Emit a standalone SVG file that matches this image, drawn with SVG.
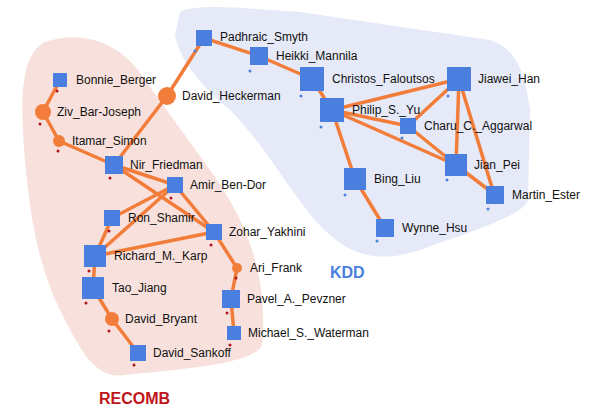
<svg xmlns="http://www.w3.org/2000/svg" width="600" height="409" viewBox="0 0 600 409">
<style>
.sq{fill:#4a7fe0}.ci{fill:#f27d3a}.e line{stroke:#f27d3a;stroke-width:3.5;stroke-linecap:round}
text{font-family:"Liberation Sans",Arial,sans-serif;font-size:12px;fill:#111}
.rd{fill:#b0141a}.bd{fill:#4a7fe0}
</style>
<rect width="600" height="409" fill="#fff"/>
<path d="M45,42 C80,30 120,40 145,80 L210,170 C250,225 268,280 262,345 C255,365 170,370 125,375 C95,380 80,350 60,310 C40,270 30,220 25,160 C20,100 20,55 45,42 Z" fill="#f8e1dc"/>
<path d="M180,12 C200,2 260,10 300,12 L490,40 C515,48 525,70 530,110 L528,200 C525,215 470,232 420,250 C385,262 355,258 330,235 C300,210 270,150 230,110 C200,85 180,60 175,35 Z" fill="#e6eaf8"/>
<g class="e">
<line x1="60" y1="80" x2="43" y2="112"/><line x1="43" y1="112" x2="59" y2="141"/><line x1="59" y1="141" x2="114" y2="165"/>
<line x1="167" y1="96" x2="114" y2="165"/><line x1="167" y1="96" x2="204" y2="38"/><line x1="204" y1="38" x2="259" y2="56"/>
<line x1="259" y1="56" x2="312" y2="79"/><line x1="312" y1="79" x2="332" y2="110"/><line x1="332" y1="110" x2="459" y2="79"/>
<line x1="332" y1="110" x2="408" y2="126"/><line x1="332" y1="110" x2="456" y2="165"/><line x1="332" y1="110" x2="355" y2="179"/>
<line x1="459" y1="79" x2="408" y2="126"/><line x1="459" y1="79" x2="456" y2="165"/><line x1="459" y1="79" x2="494" y2="194"/>
<line x1="408" y1="126" x2="456" y2="165"/><line x1="456" y1="165" x2="494" y2="194"/><line x1="355" y1="179" x2="385" y2="228"/>
<line x1="114" y1="165" x2="175" y2="185"/><line x1="114" y1="165" x2="214" y2="232"/><line x1="175" y1="185" x2="112" y2="218"/>
<line x1="175" y1="185" x2="95" y2="256"/><line x1="175" y1="185" x2="214" y2="232"/><line x1="112" y1="218" x2="95" y2="256"/>
<line x1="95" y1="256" x2="214" y2="232"/><line x1="95" y1="256" x2="93" y2="288"/><line x1="214" y1="232" x2="237" y2="268"/>
<line x1="237" y1="268" x2="231" y2="299"/><line x1="231" y1="299" x2="234" y2="333"/><line x1="93" y1="288" x2="112" y2="319"/>
<line x1="112" y1="319" x2="138" y2="353"/>
</g>
<g id="Bonnie_Berger"><rect class="sq" x="53" y="73" width="14" height="14"/><circle class="rd" cx="57" cy="91" r="1.5"/><text x="76" y="84">Bonnie_Berger</text></g>
<g id="Ziv_Bar-Joseph"><circle class="ci" cx="43" cy="112" r="8"/><circle class="rd" cx="40" cy="124" r="1.5"/><text x="57" y="116">Ziv_Bar-Joseph</text></g>
<g id="Itamar_Simon"><circle class="ci" cx="59" cy="141" r="6"/><circle class="rd" cx="58" cy="151" r="1.5"/><text x="72" y="145">Itamar_Simon</text></g>
<g id="Nir_Friedman"><rect class="sq" x="105" y="156" width="18" height="18"/><circle class="rd" cx="110" cy="178" r="1.5"/><text x="130" y="169">Nir_Friedman</text></g>
<g id="David_Heckerman"><circle class="ci" cx="167" cy="96" r="9"/><text x="182" y="100">David_Heckerman</text></g>
<g id="Amir_Ben-Dor"><rect class="sq" x="167" y="177" width="16" height="16"/><circle class="rd" cx="171" cy="198" r="1.5"/><text x="190" y="189">Amir_Ben-Dor</text></g>
<g id="Ron_Shamir"><rect class="sq" x="104" y="210" width="16" height="16"/><circle class="rd" cx="109" cy="231" r="1.5"/><text x="128" y="222">Ron_Shamir</text></g>
<g id="Zohar_Yakhini"><rect class="sq" x="206" y="224" width="16" height="16"/><circle class="rd" cx="211" cy="245" r="1.5"/><text x="229" y="236">Zohar_Yakhini</text></g>
<g id="Richard_M._Karp"><rect class="sq" x="84" y="245" width="22" height="22"/><circle class="rd" cx="89" cy="271" r="1.5"/><text x="114" y="260">Richard_M._Karp</text></g>
<g id="Tao_Jiang"><rect class="sq" x="82" y="277" width="22" height="22"/><circle class="rd" cx="86" cy="303" r="1.5"/><text x="112" y="292">Tao_Jiang</text></g>
<g id="Ari_Frank"><circle class="ci" cx="237" cy="268" r="5"/><circle class="rd" cx="236" cy="278" r="1.5"/><text x="250" y="272">Ari_Frank</text></g>
<g id="Pavel_A._Pevzner"><rect class="sq" x="222" y="290" width="18" height="18"/><circle class="rd" cx="227" cy="313" r="1.5"/><text x="247" y="303">Pavel_A._Pevzner</text></g>
<g id="Michael_S._Waterman"><rect class="sq" x="227" y="326" width="14" height="14"/><circle class="rd" cx="230" cy="345" r="1.5"/><text x="248" y="337">Michael_S._Waterman</text></g>
<g id="David_Bryant"><circle class="ci" cx="112" cy="319" r="7"/><circle class="rd" cx="109" cy="331" r="1.5"/><text x="125" y="323">David_Bryant</text></g>
<g id="David_Sankoff"><rect class="sq" x="130" y="345" width="16" height="16"/><circle class="rd" cx="134" cy="365" r="1.5"/><text x="153" y="357">David_Sankoff</text></g>
<g id="Padhraic_Smyth"><rect class="sq" x="196" y="30" width="16" height="16"/><circle class="bd" cx="195" cy="51" r="1.5"/><text x="220" y="41">Padhraic_Smyth</text></g>
<g id="Heikki_Mannila"><rect class="sq" x="250" y="47" width="18" height="18"/><circle class="bd" cx="250" cy="71" r="1.5"/><text x="276" y="60">Heikki_Mannila</text></g>
<g id="Christos_Faloutsos"><rect class="sq" x="300" y="67" width="24" height="24"/><circle class="bd" cx="301" cy="96" r="1.5"/><text x="332" y="83">Christos_Faloutsos</text></g>
<g id="Philip_S._Yu"><rect class="sq" x="320" y="98" width="24" height="24"/><circle class="bd" cx="321" cy="127" r="1.5"/><text x="352" y="114">Philip_S._Yu</text></g>
<g id="Jiawei_Han"><rect class="sq" x="447" y="67" width="24" height="24"/><circle class="bd" cx="448" cy="96" r="1.5"/><text x="478" y="83">Jiawei_Han</text></g>
<g id="Charu_C._Aggarwal"><rect class="sq" x="400" y="118" width="16" height="16"/><circle class="bd" cx="402" cy="138" r="1.5"/><text x="424" y="130">Charu_C._Aggarwal</text></g>
<g id="Jian_Pei"><rect class="sq" x="445" y="154" width="22" height="22"/><circle class="bd" cx="447" cy="180" r="1.5"/><text x="474" y="169">Jian_Pei</text></g>
<g id="Martin_Ester"><rect class="sq" x="486" y="186" width="18" height="18"/><circle class="bd" cx="488" cy="209" r="1.5"/><text x="512" y="199">Martin_Ester</text></g>
<g id="Bing_Liu"><rect class="sq" x="344" y="168" width="22" height="22"/><circle class="bd" cx="345" cy="195" r="1.5"/><text x="374" y="183">Bing_Liu</text></g>
<g id="Wynne_Hsu"><rect class="sq" x="376" y="219" width="18" height="18"/><circle class="bd" cx="377" cy="241" r="1.5"/><text x="402" y="232">Wynne_Hsu</text></g>
<text x="330" y="278" style="font-size:16px;font-weight:bold;fill:#4a7fe0">KDD</text>
<text x="99" y="404" style="font-size:16px;font-weight:bold;fill:#c0141a">RECOMB</text>
</svg>
